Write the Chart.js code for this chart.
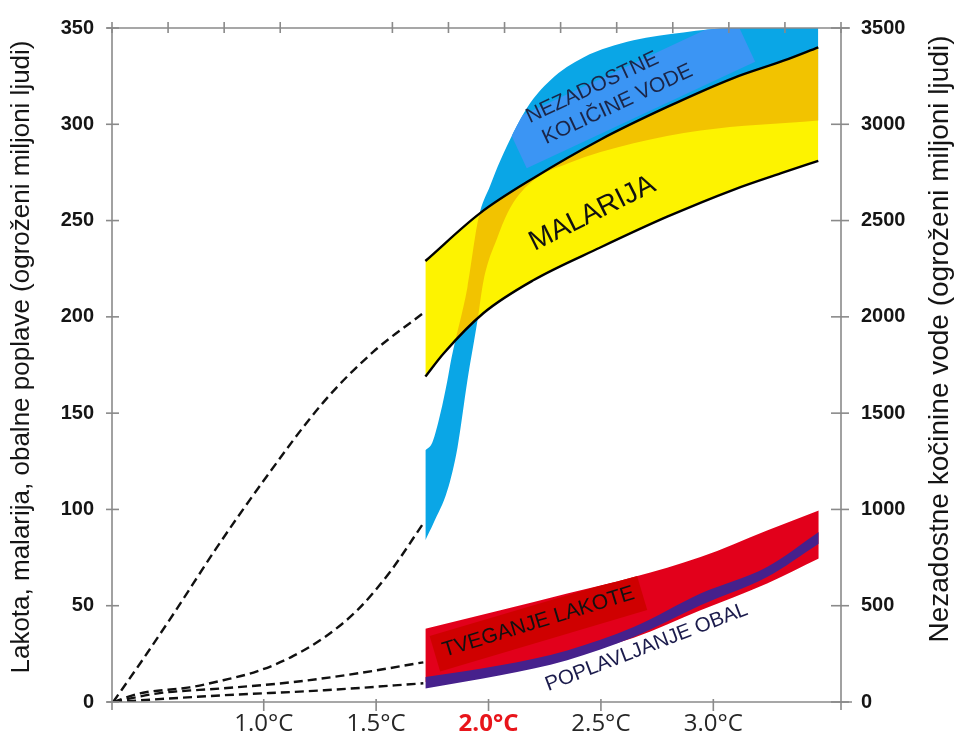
<!DOCTYPE html>
<html>
<head>
<meta charset="utf-8">
<script src="https://cdn.jsdelivr.net/npm/chart.js@4.4.1/dist/chart.umd.min.js"></script>
<style>
html,body{margin:0;padding:0;background:#fff;}
#wrap{width:956px;height:745px;}
</style>
</head>
<body>
<div id="wrap"><canvas id="c" width="956" height="745"></canvas></div>
<script>
// ---------- data ----------
// x values are warming in °C, y on left axis = millions of people (hunger, malaria, coastal flooding)
// water values are on the right axis (millions of people)
const xTickValues = [1.0, 1.5, 2.0, 2.5, 3.0];
const xTickLabels = ['1.0°C', '1.5°C', '2.0°C', '2.5°C', '3.0°C'];
const highlightTick = '2.0°C';

const waterUpperX = [1.719, 1.750, 1.786, 1.817, 1.835, 1.906, 1.955, 2.008, 2.053, 2.173, 2.275, 2.422, 2.645, 2.867, 3.089, 3.467];
const waterUpperY = [1307, 1348, 1499, 1670, 1785, 2153, 2511, 2683, 2813, 3088, 3229, 3347, 3436, 3477, 3500, 3500];
const waterLowerX = [1.719, 1.755, 1.817, 1.862, 1.906, 1.951, 1.978, 2.040, 2.098, 2.200, 2.352, 2.645, 2.943, 3.467];
const waterLowerY = [840, 928, 1099, 1322, 1670, 1982, 2189, 2413, 2569, 2709, 2797, 2901, 2968, 3020];

const malariaUpperX = [1.719, 1.964, 2.199, 2.497, 2.795, 3.089, 3.312, 3.467];
const malariaUpperY = [229, 254, 272, 292, 309, 324, 333, 340];
const malariaLowerX = [1.719, 1.800, 1.978, 2.199, 2.497, 2.795, 3.089, 3.312, 3.467];
const malariaLowerY = [169, 181, 202, 219, 236, 252, 266, 275, 281];

const bandX = [1.719, 2.053, 2.350, 2.646, 2.943, 3.239, 3.469];
const hungerUpperY = [38.1, 47.6, 56.3, 64.9, 75.3, 89.1, 99.5];
const hungerLowerY = [10.4, 16.5, 24.2, 33.4, 47.6, 61.5, 74.5];
const coastUpperY = [13.0, 19.1, 26.8, 38.9, 56.3, 70.1, 88.3];
const coastLowerY = [7.0, 13.9, 21.7, 33.7, 50.2, 64.9, 82.2];

const malariaTrendX = [0.33, 0.45, 0.60, 0.79, 1.00, 1.265, 1.488, 1.71];
const malariaTrendY = [0, 20, 46, 80, 115, 155.6, 181.9, 202];
const waterTrendX = [0.33, 0.45, 0.67, 0.82, 0.97, 1.12, 1.27, 1.42, 1.56, 1.71];
const waterTrendY = [0, 45, 76, 113, 159, 232, 336, 481, 673, 928];
const hungerTrendX = [0.33, 0.53, 0.82, 1.12, 1.42, 1.71];
const hungerTrendY = [0, 4.5, 7.1, 10.2, 14.9, 20.6];
const coastTrendX = [0.33, 0.82, 1.27, 1.71];
const coastTrendY = [0, 3.5, 6.1, 9.7];

const leftTitle = 'Lakota, malarija, obalne poplave (ogroženi miljoni ljudi)';
const rightTitle = 'Nezadostne kočinine vode (ogroženi miljoni ljudi)';

// ---------- styles ----------
const C = {
  blue: '#0aa6e6', bluePatch: '#3b95f4', yellow: '#fdf300', orange: '#f2c300',
  red: '#e2001b', redBox: '#cf0000', purple: '#46218c', axis: '#8a8a8a',
  text: '#151515', red2: '#e8151b'
};
const SANS = "'Liberation Sans', Arial, sans-serif";

// in-plot labels: anchor in data units, drawing style separate
const plotLabels = [
  {text: 'NEZADOSTNE', x: 2.462, y: 319.0, angle: -25, size: 21, color: '#1b2547'},
  {text: 'KOLIČINE VODE', x: 2.574, y: 310.3, angle: -25, size: 21, color: '#1b2547'},
  {text: 'MALARIJA', x: 2.462, y: 253.7, angle: -26.5, size: 28, color: '#111'},
  {text: 'TVEGANJE LAKOTE', x: 2.222, y: 41.5, angle: -17, size: 21, color: '#111'},
  {text: 'POPLAVLJANJE OBAL', x: 2.703, y: 28.4, angle: -21, size: 20.5, color: '#1b1b4c'}
];
const waterPatch = {x: 2.631, y: 316.6, angle: -25, w: 252, h: 50, color: C.bluePatch};
const hungerBox = {x: 2.222, y: 41.0, angle: -16.5, w: 216, h: 37, color: C.redBox};
const topTickGap = 4;

const zip = (xs, ys) => xs.map((x, i) => ({x: x, y: ys[i]}));

const base = {
  pointRadius: 0, pointHoverRadius: 0, cubicInterpolationMode: 'monotone',
  borderWidth: 0, borderColor: 'rgba(0,0,0,0)', fill: false, xAxisID: 'x'
};
const dash = {borderWidth: 2.4, borderColor: '#111', borderDash: [9, 5]};

function bandPath(ctx, chart, upperIdx, lowerIdx) {
  const a = chart.chartArea;
  const um = chart.getDatasetMeta(upperIdx), lm = chart.getDatasetMeta(lowerIdx);
  um.dataset.updateControlPoints(a, 'x');
  lm.dataset.updateControlPoints(a, 'x');
  const u = um.data, l = lm.data;
  ctx.beginPath();
  ctx.moveTo(u[0].x, u[0].y);
  for (let i = 1; i < u.length; i++) {
    ctx.bezierCurveTo(u[i-1].cp2x, u[i-1].cp2y, u[i].cp1x, u[i].cp1y, u[i].x, u[i].y);
  }
  const n = l.length;
  ctx.lineTo(l[n-1].x, l[n-1].y);
  for (let i = n - 1; i > 0; i--) {
    ctx.bezierCurveTo(l[i].cp1x, l[i].cp1y, l[i-1].cp2x, l[i-1].cp2y, l[i-1].x, l[i-1].y);
  }
  ctx.closePath();
}

function rotRect(ctx, chart, r) {
  const px = chart.scales.x.getPixelForValue(r.x);
  const py = chart.scales.y.getPixelForValue(r.y);
  ctx.save();
  ctx.translate(px, py);
  ctx.rotate(r.angle * Math.PI / 180);
  ctx.fillStyle = r.color;
  ctx.fillRect(-r.w / 2, -r.h / 2, r.w, r.h);
  ctx.restore();
}

const decor = {
  id: 'decor',
  afterDatasetDraw(chart, args) {
    const ctx = chart.ctx, a = chart.chartArea;
    if (args.index === 1) {
      ctx.save();
      ctx.beginPath(); ctx.rect(a.left, a.top, a.right - a.left, a.bottom - a.top); ctx.clip();
      bandPath(ctx, chart, 1, 0); ctx.clip();
      rotRect(ctx, chart, waterPatch);
      ctx.restore();
    }
    if (args.index === 3) {
      ctx.save();
      ctx.beginPath(); ctx.rect(a.left, a.top, a.right - a.left, a.bottom - a.top); ctx.clip();
      bandPath(ctx, chart, 3, 2); ctx.clip();
      bandPath(ctx, chart, 1, 0);
      ctx.fillStyle = C.orange; ctx.fill();
      ctx.restore();
    }
    if (args.index === 7) {
      ctx.save();
      bandPath(ctx, chart, 7, 6); ctx.clip();
      rotRect(ctx, chart, hungerBox);
      ctx.restore();
    }
  },
  afterDatasetsDraw(chart) {
    const ctx = chart.ctx;
    plotLabels.forEach(l => {
      const px = chart.scales.x.getPixelForValue(l.x);
      const py = chart.scales.y.getPixelForValue(l.y);
      ctx.save();
      ctx.translate(px, py);
      ctx.rotate(l.angle * Math.PI / 180);
      ctx.font = l.size + 'px ' + SANS;
      ctx.fillStyle = l.color;
      ctx.textAlign = 'center';
      ctx.textBaseline = 'middle';
      ctx.fillText(l.text, 0, 0);
      ctx.restore();
    });
  },
  afterDraw(chart) {
    const ctx = chart.ctx, a = chart.chartArea, s = chart.scales;
    ctx.save();
    ctx.strokeStyle = C.axis; ctx.lineWidth = 1.6;
    const seg = (x1, y1, x2, y2) => { ctx.beginPath(); ctx.moveTo(x1, y1); ctx.lineTo(x2, y2); ctx.stroke(); };
    seg(a.left - 5, a.top, a.right + 9, a.top);
    seg(a.left - 5, a.bottom, a.right + 11, a.bottom);
    seg(a.left, a.top, a.left, a.bottom + 8);
    seg(a.right, a.top, a.right, a.bottom + 8);
    s.y.ticks.forEach(t => { const p = s.y.getPixelForValue(t.value); seg(a.left - 6, p, a.left + 7, p); });
    s.y2.ticks.forEach(t => { const p = s.y2.getPixelForValue(t.value); seg(a.right - 10, p, a.right + 8, p); });
    s.x2.ticks.forEach((t, i) => { if (i === topTickGap) return; const p = s.x2.getPixelForValue(t.value); seg(p, a.top - 6, p, a.top + 5); });
    s.x.ticks.forEach(t => { const p = s.x.getPixelForValue(t.value); seg(p, a.bottom - 3, p, a.bottom + 9); });
    // axis titles
    ctx.fillStyle = C.text;
    ctx.textAlign = 'center'; ctx.textBaseline = 'middle';
    ctx.font = '26px ' + SANS;
    ctx.save(); ctx.translate(22, 357); ctx.rotate(-Math.PI / 2); ctx.fillText(leftTitle, 0, 0); ctx.restore();
    ctx.font = '28px ' + SANS;
    ctx.save(); ctx.translate(940, 339); ctx.rotate(-Math.PI / 2); ctx.fillText(rightTitle, 0, 0); ctx.restore();
    ctx.restore();
  }
};

const noPad = sc => { sc.paddingTop = 0; sc.paddingBottom = 0; };

new Chart(document.getElementById('c'), {
  type: 'line',
  data: {
    datasets: [
      {...base, label: 'waterLower', data: zip(waterLowerX, waterLowerY), yAxisID: 'y2', order: 20},
      {...base, label: 'waterUpper', data: zip(waterUpperX, waterUpperY), yAxisID: 'y2', order: 19, fill: '-1', backgroundColor: C.blue},
      {...base, label: 'malariaLower', data: zip(malariaLowerX, malariaLowerY), yAxisID: 'y', order: 18},
      {...base, label: 'malariaUpper', data: zip(malariaUpperX, malariaUpperY), yAxisID: 'y', order: 17, fill: '-1', backgroundColor: C.yellow},
      {...base, label: 'malariaLowerEdge', data: zip(malariaLowerX, malariaLowerY), yAxisID: 'y', order: 16, borderWidth: 2.4, borderColor: '#000'},
      {...base, label: 'malariaUpperEdge', data: zip(malariaUpperX, malariaUpperY), yAxisID: 'y', order: 15, borderWidth: 2.4, borderColor: '#000'},
      {...base, label: 'hungerLower', data: zip(bandX, hungerLowerY), yAxisID: 'y', order: 14},
      {...base, label: 'hungerUpper', data: zip(bandX, hungerUpperY), yAxisID: 'y', order: 13, fill: '-1', backgroundColor: C.red},
      {...base, label: 'coastLower', data: zip(bandX, coastLowerY), yAxisID: 'y', order: 12},
      {...base, label: 'coastUpper', data: zip(bandX, coastUpperY), yAxisID: 'y', order: 11, fill: '-1', backgroundColor: C.purple},
      {...base, ...dash, label: 'malariaTrend', data: zip(malariaTrendX, malariaTrendY), yAxisID: 'y', order: 10},
      {...base, ...dash, label: 'waterTrend', data: zip(waterTrendX, waterTrendY), yAxisID: 'y2', order: 9},
      {...base, ...dash, label: 'hungerTrend', data: zip(hungerTrendX, hungerTrendY), yAxisID: 'y', order: 8},
      {...base, ...dash, label: 'coastTrend', data: zip(coastTrendX, coastTrendY), yAxisID: 'y', order: 7}
    ]
  },
  options: {
    responsive: false, animation: false, devicePixelRatio: 1, events: [],
    layout: {padding: 0},
    plugins: {legend: {display: false}, tooltip: {enabled: false}, title: {display: false}},
    scales: {
      x: {
        type: 'linear', position: 'bottom', min: 0.325, max: 3.568,
        afterBuildTicks: sc => { sc.ticks = xTickValues.map(v => ({value: v})); },
        afterFit: sc => { sc.height = 43; sc.paddingLeft = 0; sc.paddingRight = 0; },
        grid: {display: false, drawTicks: false}, border: {display: false},
        ticks: {
          autoSkip: false, maxRotation: 0, minRotation: 0, padding: 8,
          callback: (v, i) => xTickLabels[i],
          font: c => ({family: "'Open Sans', sans-serif", size: 24, weight: xTickLabels[c.index] === highlightTick ? 'bold' : 'normal'}),
          color: c => xTickLabels[c.index] === highlightTick ? C.red2 : '#262626'
        }
      },
      x2: {
        type: 'linear', position: 'top', min: 0, max: 3.25,
        afterFit: sc => { sc.height = 28; sc.paddingLeft = 0; sc.paddingRight = 0; },
        grid: {display: false, drawTicks: false}, border: {display: false},
        ticks: {display: false, stepSize: 0.25, autoSkip: false}
      },
      y: {
        type: 'linear', position: 'left', min: 0, max: 350,
        afterFit: sc => { sc.width = 112; noPad(sc); },
        grid: {display: false, drawTicks: false}, border: {display: false},
        ticks: {stepSize: 50, padding: 18, color: C.text, font: {family: SANS, size: 20, weight: 'bold'}, callback: v => String(v)}
      },
      y2: {
        type: 'linear', position: 'right', min: 0, max: 3500,
        afterFit: sc => { sc.width = 115; noPad(sc); },
        grid: {display: false, drawTicks: false}, border: {display: false},
        ticks: {stepSize: 500, padding: 20, color: C.text, font: {family: SANS, size: 20, weight: 'bold'}, callback: v => String(v)}
      }
    }
  },
  plugins: [decor]
});
</script>
</body>
</html>
